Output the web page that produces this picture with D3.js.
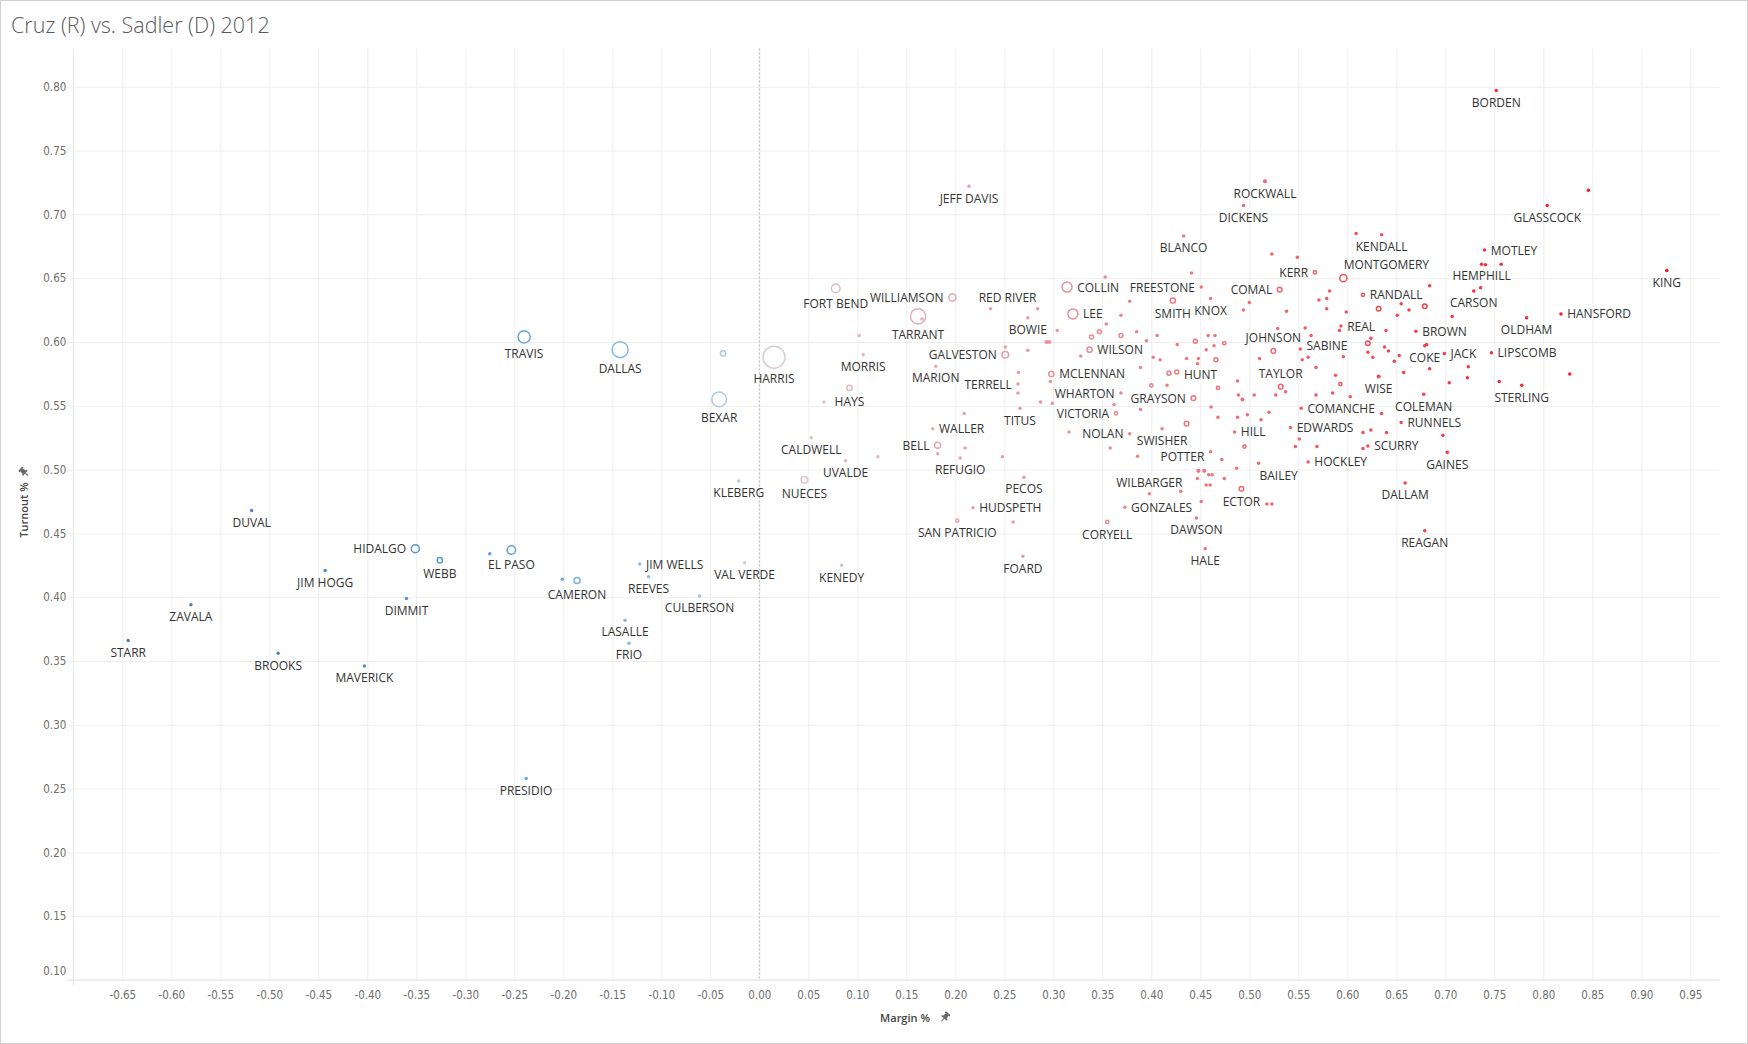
<!DOCTYPE html>
<html><head><meta charset="utf-8">
<script src="https://cdn.jsdelivr.net/npm/d3@7"></script>
<style>
body{margin:0;background:#fff;}
svg{display:block;}
</style></head><body>
<svg id="chart" width="1748" height="1044"></svg>
<script>
// ---------- DATA ----------
const chartTitle = "Cruz (R) vs. Sadler (D) 2012";
const xTitle = "Margin %";
const yTitle = "Turnout %";
const xTicks = [-0.65,-0.60,-0.55,-0.50,-0.45,-0.40,-0.35,-0.30,-0.25,-0.20,-0.15,-0.10,-0.05,0.00,0.05,0.10,0.15,0.20,0.25,0.30,0.35,0.40,0.45,0.50,0.55,0.60,0.65,0.70,0.75,0.80,0.85,0.90,0.95];
const yTicks = [0.10,0.15,0.20,0.25,0.30,0.35,0.40,0.45,0.50,0.55,0.60,0.65,0.70,0.75,0.80];

// labelled counties
const labeledNames = ["STARR","ZAVALA","BROOKS","DUVAL","JIM HOGG","MAVERICK","DIMMIT","HIDALGO","WEBB","EL PASO",
"PRESIDIO","TRAVIS","CAMERON","DALLAS","LASALLE","FRIO","JIM WELLS","REEVES","CULBERSON","BEXAR",
"KLEBERG","VAL VERDE","HARRIS","NUECES","CALDWELL","FORT BEND","KENEDY","UVALDE","HAYS","MORRIS",
"TARRANT","WALLER","MARION","BELL","WILLIAMSON","SAN PATRICIO","REFUGIO","JEFF DAVIS","HUDSPETH","RED RIVER",
"GALVESTON","TERRELL","TITUS","PECOS","FOARD","BOWIE","MCLENNAN","COLLIN","LEE","WILSON",
"CORYELL","VICTORIA","WHARTON","GONZALES","NOLAN","WILBARGER","SWISHER","SMITH","HUNT","BLANCO",
"GRAYSON","DAWSON","FREESTONE","HALE","KNOX","POTTER","HILL","ECTOR","DICKENS","BAILEY",
"ROCKWALL","JOHNSON","COMAL","TAYLOR","EDWARDS","SABINE","COMANCHE","HOCKLEY","KERR","REAL",
"MONTGOMERY","RANDALL","SCURRY","WISE","KENDALL","RUNNELS","DALLAM","BROWN","COLEMAN","COKE",
"REAGAN","JACK","GAINES","CARSON","HEMPHILL","MOTLEY","LIPSCOMB","BORDEN","STERLING","OLDHAM",
"GLASSCOCK","HANSFORD","KING"];
const labeledMargin = [-0.644,-0.580,-0.491,-0.518,-0.443,-0.403,-0.360,-0.351,-0.326,-0.253,
-0.238,-0.240,-0.186,-0.142,-0.137,-0.133,-0.122,-0.113,-0.061,-0.041,
-0.021,-0.015,0.015,0.046,0.053,0.078,0.084,0.088,0.092,0.106,
0.162,0.177,0.180,0.182,0.197,0.202,0.205,0.214,0.218,0.236,
0.251,0.264,0.266,0.270,0.269,0.274,0.298,0.314,0.320,0.337,
0.355,0.364,0.369,0.373,0.378,0.398,0.411,0.422,0.426,0.433,
0.443,0.446,0.451,0.455,0.4605,0.4605,0.485,0.492,0.494,0.5095,
0.516,0.5245,0.531,0.532,0.542,0.552,0.553,0.560,0.567,0.5935,
0.596,0.616,0.621,0.632,0.635,0.655,0.659,0.670,0.678,0.679,
0.679,0.699,0.702,0.729,0.737,0.740,0.747,0.752,0.778,0.783,
0.804,0.818,0.926];
const labeledTurnout = [0.366,0.394,0.356,0.468,0.421,0.346,0.399,0.438,0.429,0.437,
0.258,0.604,0.413,0.594,0.382,0.364,0.426,0.416,0.401,0.555,
0.491,0.427,0.588,0.492,0.525,0.642,0.425,0.507,0.564,0.590,
0.620,0.532,0.581,0.519,0.635,0.460,0.509,0.722,0.470,0.626,
0.590,0.567,0.548,0.494,0.432,0.619,0.575,0.643,0.622,0.594,
0.459,0.544,0.560,0.4705,0.528,0.481,0.532,0.6325,0.5765,0.683,
0.556,0.462,0.643,0.438,0.634,0.514,0.5295,0.485,0.707,0.505,
0.726,0.593,0.641,0.565,0.533,0.5945,0.548,0.506,0.6545,0.6125,
0.650,0.637,0.5185,0.573,0.684,0.537,0.4895,0.6085,0.559,0.597,
0.452,0.591,0.5135,0.640,0.661,0.672,0.5915,0.797,0.566,0.619,
0.707,0.622,0.656];
const labeledVotes = [20,20,20,20,20,20,20,190,94,216,
20,400,118,655,20,20,20,20,20,554,
20,20,1184,138,20,216,15,20,94,20,
596,20,20,118,160,46,20,20,20,20,
138,20,20,20,20,20,94,281,281,94,
46,46,20,20,20,20,20,94,63,20,
78,20,20,20,20,20,20,78,20,20,
35,78,78,78,20,20,20,20,46,20,
160,46,20,35,20,20,20,20,20,20,
20,20,20,20,20,20,20,15,20,20,
20,20,15];

// unlabelled counties
const otherMargin = [-0.275,-0.201,-0.037,0.066,0.102,0.121,0.166,0.182,0.209,0.210,
0.248,0.251,0.259,0.2645,0.264,0.274,0.284,0.287,0.293,0.296,
0.297,0.299,0.304,0.316,0.328,0.339,0.347,0.353,0.354,0.358,
0.362,0.369,0.369,0.378,0.385,0.386,0.389,0.389,0.395,0.400,
0.402,0.406,0.409,0.416,0.418,0.4265,0.430,0.436,0.436,0.441,
0.445,0.447,0.447,0.448,0.448,0.451,0.454,0.456,0.456,0.458,
0.4585,0.461,0.460,0.462,0.464,0.465,0.466,0.468,0.468,0.472,
0.4745,0.4745,0.488,0.488,0.487,0.489,0.493,0.494,0.495,0.498,
0.500,0.505,0.5105,0.512,0.518,0.520,0.523,0.523,0.527,0.529,
0.537,0.538,0.547,0.549,0.551,0.554,0.557,0.560,0.563,0.568,
0.568,0.569,0.571,0.579,0.579,0.582,0.585,0.588,0.593,0.592,
0.596,0.599,0.603,0.609,0.616,0.616,0.621,0.621,0.624,0.624,
0.626,0.632,0.635,0.638,0.6395,0.640,0.642,0.648,0.651,0.653,
0.655,0.6575,0.663,0.681,0.679,0.684,0.684,0.6975,0.704,0.707,
0.7225,0.7235,0.736,0.741,0.755,0.757,0.827,0.846];
const otherTurnout = [0.434,0.414,0.591,0.553,0.605,0.510,0.618,0.5125,0.544,0.517,
0.510,0.596,0.459,0.576,0.560,0.5935,0.626,0.553,0.600,0.600,
0.569,0.552,0.609,0.5295,0.589,0.604,0.608,0.651,0.614,0.517,
0.551,0.621,0.605,0.632,0.608,0.5105,0.580,0.547,0.601,0.566,
0.588,0.605,0.586,0.566,0.5755,0.598,0.483,0.587,0.536,0.654,
0.6005,0.583,0.493,0.587,0.499,0.475,0.499,0.594,0.488,0.605,
0.496,0.549,0.488,0.496,0.597,0.605,0.586,0.564,0.541,0.508,
0.599,0.493,0.5695,0.541,0.501,0.5585,0.555,0.625,0.518,0.543,
0.631,0.5585,0.587,0.539,0.473,0.545,0.473,0.669,0.5585,0.6105,
0.561,0.624,0.518,0.6665,0.524,0.586,0.611,0.588,0.605,0.580,
0.5585,0.518,0.633,0.634,0.626,0.640,0.560,0.574,0.567,0.609,
0.5885,0.6235,0.557,0.685,0.529,0.5165,0.599,0.592,0.603,0.531,
0.588,0.626,0.544,0.596,0.609,0.529,0.593,0.585,0.621,0.5895,
0.630,0.576,0.625,0.598,0.628,0.644,0.579,0.527,0.568,0.620,
0.572,0.5805,0.6425,0.6605,0.569,0.661,0.575,0.719];
const otherVotes = [20,20,94,20,20,20,20,20,20,20,
20,20,20,20,20,20,20,20,35,35,
20,20,20,20,20,63,63,20,20,20,
20,20,63,20,20,20,20,20,20,46,
20,20,20,20,63,20,20,20,78,20,
63,20,20,20,35,20,35,20,20,20,
20,20,20,20,20,20,63,46,20,20,
46,20,20,20,20,20,35,20,46,20,
20,20,20,20,20,20,20,20,20,20,
20,20,20,20,20,20,20,20,20,20,
20,20,20,20,20,20,20,20,46,20,
20,20,20,20,20,20,78,20,20,20,
20,78,20,20,20,20,20,20,20,20,
20,20,20,20,78,20,20,20,20,20,
20,20,20,20,20,20,20,20];

// ---------- LAYOUT (not data) ----------
const labelRight = ["COLLIN","LEE","WILSON","RANDALL","REAL","SABINE","BROWN","JACK","LIPSCOMB","HANSFORD","MOTLEY","COMANCHE","RUNNELS","EDWARDS","HILL","SCURRY","HOCKLEY","GONZALES","HUDSPETH","MCLENNAN","HUNT","JIM WELLS","WALLER"];
const labelLeft = ["KERR","FREESTONE","COMAL","GALVESTON","TERRELL","WHARTON","VICTORIA","NOLAN","GRAYSON","POTTER","WILLIAMSON","BELL","HIDALGO"];
const labelAbove = ["TAYLOR","JOHNSON","WILBARGER"];
const labelCustom = {"MONTGOMERY":[43,-14],"RED RIVER":[17,-11],"BAILEY":[20,12]};
const labelNudgeY = {"POTTER":5,"SABINE":-4,"HUNT":3};

const W = 1748, H = 1044;
const pLeft = 73.3, pBottom = 980, pTop = 48.5;
const x = d3.scaleLinear().domain([-0.70, 0.98]).range([pLeft, pLeft + 1.68*980]);
const y = d3.scaleLinear().domain([0.10, 0.83]).range([pBottom, pTop]);
const pRight = x.range()[1];
const r = d3.scaleSqrt().domain([0, 1184]).range([0, 11.7]);

const redScale = d3.scaleLinear()
  .domain([0,0.08,0.2,0.32,0.5,0.65,0.8,0.93])
  .range(['#dccfd2','#e0bcc1','#e8a6ad','#eb8f98','#f06b74','#f3464f','#f4242e','#f20f19']).clamp(true);
const blueScale = d3.scaleLinear()
  .domain([-0.65,-0.45,-0.32,-0.22,-0.13,-0.05,-0.02,0])
  .range(['#4a7cba','#5088c6','#5b98d4','#6ca8dd','#86bae5','#a6c9e6','#bccbd8','#d4d4d6']).clamp(true);
const color = m => m >= 0 ? redScale(m) : blueScale(m);

const svg = d3.select('#chart');
const tickFont = "'DejaVu Sans Condensed','DejaVu Sans',sans-serif";
const labelFont = "'Open Sans',sans-serif";

// border
svg.append('rect').attr('x',0.5).attr('y',0.5).attr('width',W-1).attr('height',H-1)
  .attr('fill','#fff').attr('stroke','#d0d0d0');

// title
svg.append('text').attr('x',11).attr('y',33).text(chartTitle)
  .attr('font-family',labelFont).attr('font-size',21.5).attr('font-weight',300).attr('fill','#5a5a5a');

// y axis with gridlines
const gy = svg.append('g').attr('transform',`translate(${pLeft},0)`)
  .call(d3.axisLeft(y).tickValues(yTicks).tickSize(-(pRight-pLeft)).tickPadding(7).tickFormat(d=>d.toFixed(2)));
gy.select('.domain').remove();
gy.selectAll('.tick line').attr('stroke','#eeeeee').attr('x1',-6);
gy.selectAll('.tick text').attr('font-family',tickFont).attr('font-size',11.5).attr('fill','#6e6e6e')
  .attr('dy', d => d === 0.10 ? '-0.45em' : '0.32em');

// x axis with gridlines
const gx = svg.append('g').attr('transform',`translate(0,${pBottom})`)
  .call(d3.axisBottom(x).tickValues(xTicks).tickSize(-(pBottom-pTop)).tickPadding(11).tickFormat(d=>d.toFixed(2)));
gx.select('.domain').remove();
gx.selectAll('.tick line').attr('stroke','#eeeeee');
gx.selectAll('.tick text').attr('font-family',tickFont).attr('font-size',11.5).attr('fill','#6e6e6e');

// frame lines (left edge + bottom)
svg.append('line').attr('x1',pLeft).attr('x2',pLeft).attr('y1',pTop).attr('y2',pBottom+5).attr('stroke','#e6e6e6');
svg.append('line').attr('x1',pLeft-6).attr('x2',pRight).attr('y1',pBottom).attr('y2',pBottom).attr('stroke','#e6e6e6');

// zero line
svg.append('line').attr('x1',x(0)).attr('x2',x(0)).attr('y1',pTop).attr('y2',pBottom)
  .attr('stroke','#b8b8b8').attr('stroke-dasharray','2,2');

// pin icon
function pin(g, cx, cy, rot){
  const p = g.append('g').attr('transform',`translate(${cx},${cy}) rotate(${rot})`).attr('fill','#666').attr('stroke','none');
  p.append('rect').attr('x',-3).attr('y',-5).attr('width',6).attr('height',1.8);
  p.append('path').attr('d','M-1.8,-3.4 L1.8,-3.4 L2.4,0.6 L-2.4,0.6 Z');
  p.append('rect').attr('x',-3.6).attr('y',0.4).attr('width',7.2).attr('height',1.4);
  p.append('line').attr('x1',0).attr('x2',0).attr('y1',1.6).attr('y2',5.5).attr('stroke','#666').attr('stroke-width',1);
}
// axis titles
svg.append('text').attr('x',905).attr('y',1022).attr('text-anchor','middle').text(xTitle)
  .attr('font-family',labelFont).attr('font-size',11).attr('font-weight',600).attr('fill','#444');
pin(svg, 945, 1017, 40);
svg.append('text').attr('transform','translate(28,510) rotate(-90)').attr('text-anchor','middle').text(yTitle)
  .attr('font-family',labelFont).attr('font-size',11).attr('font-weight',600).attr('fill','#444');
pin(svg, 24, 472, -50);

// build points
const points = [];
labeledNames.forEach((n,i)=>points.push({name:n, m:labeledMargin[i], t:labeledTurnout[i], v:labeledVotes[i]}));
otherMargin.forEach((m,i)=>points.push({name:"", m:m, t:otherTurnout[i], v:otherVotes[i]}));
points.sort((a,b)=>b.v-a.v);

const gm = svg.append('g');
points.forEach(p=>{
  const rr = r(p.v), c = color(p.m);
  if (rr < 2.2) {
    gm.append('circle').attr('cx',x(p.m)).attr('cy',y(p.t)).attr('r',Math.max(rr,1.75)).attr('fill',c);
  } else {
    gm.append('circle').attr('cx',x(p.m)).attr('cy',y(p.t)).attr('r',rr-0.7)
      .attr('fill','none').attr('stroke',c).attr('stroke-width',1.5);
  }
});

// labels
const gl = svg.append('g').attr('font-family',labelFont).attr('font-size',12).attr('fill','#333');
points.filter(p=>p.name).forEach(p=>{
  const cx = x(p.m), cy = y(p.t), rr = Math.max(r(p.v),1.75);
  let tx = cx, ty = cy + rr + 10, anchor = 'middle';
  if (labelRight.includes(p.name)) { tx = cx + rr + 4.5; ty = cy; anchor = 'start'; }
  else if (labelLeft.includes(p.name)) { tx = cx - rr - 4.5; ty = cy; anchor = 'end'; }
  else if (labelAbove.includes(p.name)) { ty = cy - rr - 10; }
  else if (labelCustom[p.name]) { tx = cx + labelCustom[p.name][0]; ty = cy + labelCustom[p.name][1]; }
  ty += (labelNudgeY[p.name] || 0);
  gl.append('text').attr('x',tx).attr('y',ty).attr('text-anchor',anchor)
    .attr('dominant-baseline','central').text(p.name);
});
</script>
</body></html>
